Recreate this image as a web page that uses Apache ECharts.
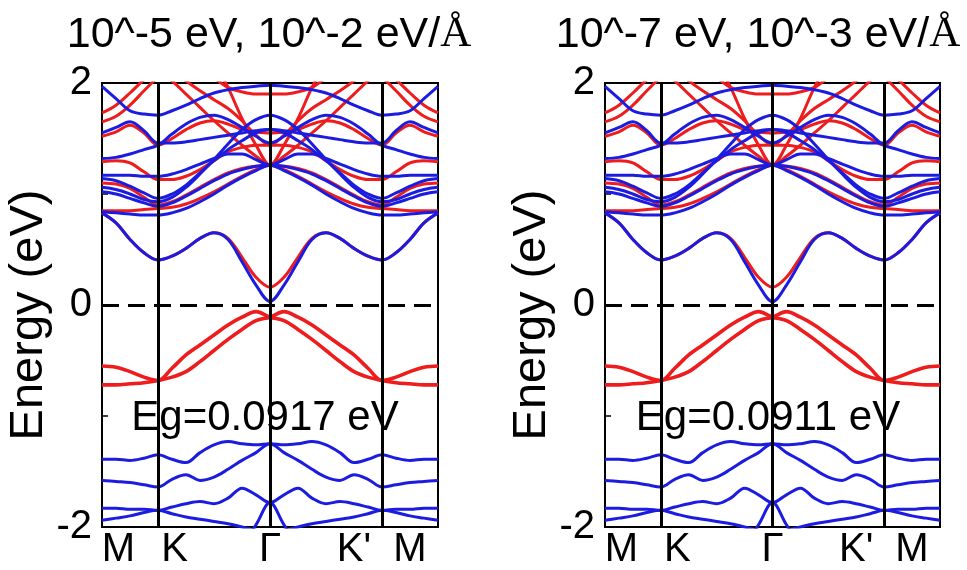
<!DOCTYPE html>
<html>
<head>
<meta charset="utf-8">
<script src="https://cdn.jsdelivr.net/npm/echarts@6/dist/echarts.min.js"></script>
<style>
html,body{margin:0;padding:0;background:#fff;}
#chart{width:967px;height:570px;}
</style>
</head>
<body>
<div id="chart"></div>
<script>
// k-path M-K-Γ-K'-M, sampled every 0.125 (|MK| = 0.5, |KΓ| = 1)
const kPath = [0,0.125,0.25,0.375,0.5,0.625,0.75,0.875,1,1.125,1.25,1.375,1.5,
               1.625,1.75,1.875,2,2.125,2.25,2.375,2.5,2.625,2.75,2.875,3];
const kTicks = [0, 0.5, 1.5, 2.5, 3];
const kLabels = ['M', 'K', 'Γ', "K'", 'M'];
const innerLines = [0.5, 1.5, 2.5];
const energyLabels = [-2, 0, 2];

const panelTitles = ['10^-5 eV, 10^-2 eV/', '10^-7 eV, 10^-3 eV/'];
const gapLabels = ['Eg=0.0917 eV', 'Eg=0.0911 eV'];

// ---- red bands (eV) ----
const redCond1  = [0.83,0.74,0.59,0.47,0.405,0.44,0.51,0.60,0.65,0.60,0.43,0.25,0.16,0.25,0.43,0.60,0.65,0.60,0.51,0.44,0.405,0.47,0.59,0.74,0.83];
const redCond2  = [0.85,0.85,0.85,0.86,0.87,0.88,0.91,0.96,1.02,1.09,1.16,1.22,1.26,1.22,1.16,1.09,1.02,0.96,0.91,0.88,0.87,0.86,0.85,0.85,0.85];
const redCond3  = [1.10,1.09,1.05,0.97,0.90,0.93,0.99,1.06,1.13,1.19,1.23,1.25,1.26,1.25,1.23,1.19,1.13,1.06,0.99,0.93,0.90,0.97,1.05,1.09,1.10];
const redCond4  = [1.29,1.30,1.28,1.20,1.13,1.13,1.16,1.22,1.30,1.38,1.42,1.44,1.44,1.44,1.42,1.38,1.30,1.22,1.16,1.13,1.13,1.20,1.28,1.30,1.29];
const redCond5  = [1.52,1.56,1.62,1.55,1.44,1.50,1.58,1.64,1.66,1.63,1.58,1.56,1.55,1.56,1.58,1.63,1.66,1.64,1.58,1.50,1.44,1.55,1.62,1.56,1.52];
const redCond6  = [1.73,1.80,1.91,2.03,2.12,2.02,1.90,1.78,1.66,1.55,1.44,1.34,1.26,1.34,1.44,1.55,1.66,1.78,1.90,2.02,2.12,2.03,1.91,1.80,1.73];
const redCond7  = [2.40,2.38,2.34,2.28,2.22,2.12,2.02,1.93,1.85,1.77,1.66,1.53,1.44,1.53,1.66,1.77,1.85,1.93,2.02,2.12,2.22,2.28,2.34,2.38,2.40];
const redCond8  = [2.60,2.60,2.60,2.60,2.60,2.55,2.50,2.40,2.20,1.96,1.68,1.44,1.26,1.44,1.68,1.96,2.20,2.40,2.50,2.55,2.60,2.60,2.60,2.60,2.60];
const redCond9  = [2.50,2.45,2.40,2.35,2.30,2.28,2.25,2.16,2.05,1.96,1.92,1.90,1.90,1.90,1.92,1.96,2.05,2.16,2.25,2.28,2.30,2.35,2.40,2.45,2.50];
const redCond10 = [1.65,1.70,1.80,1.93,2.05,2.12,2.20,2.28,2.35,2.40,2.42,2.44,2.45,2.44,2.42,2.40,2.35,2.28,2.20,2.12,2.05,1.93,1.80,1.70,1.65];
const redVal1   = [-0.55,-0.56,-0.60,-0.65,-0.68,-0.57,-0.45,-0.36,-0.27,-0.18,-0.11,-0.06,-0.11,-0.14,-0.22,-0.31,-0.41,-0.51,-0.60,-0.65,-0.68,-0.70,-0.71,-0.72,-0.72];
const redVal2   = [-0.72,-0.72,-0.71,-0.70,-0.68,-0.65,-0.60,-0.51,-0.41,-0.31,-0.22,-0.14,-0.11,-0.06,-0.11,-0.18,-0.27,-0.36,-0.45,-0.57,-0.68,-0.65,-0.60,-0.56,-0.55];

// ---- blue bands (eV) ----
const blueCond1L = [0.83,0.74,0.59,0.47,0.405,0.44,0.51,0.60,0.65,0.59,0.39,0.18,0.0317,0.18,0.39,0.59,0.65,0.60,0.51,0.44,0.405,0.47,0.59,0.74,0.83];
const blueCond1R = [0.83,0.74,0.59,0.47,0.405,0.44,0.51,0.60,0.65,0.59,0.39,0.18,0.0311,0.18,0.39,0.59,0.65,0.60,0.51,0.44,0.405,0.47,0.59,0.74,0.83];
const blueCond2  = [0.84,0.83,0.82,0.81,0.81,0.83,0.87,0.93,1.00,1.08,1.15,1.21,1.26,1.21,1.15,1.08,1.00,0.93,0.87,0.83,0.81,0.81,0.82,0.83,0.84];
const blueCond3  = [1.02,1.00,0.96,0.92,0.89,0.92,0.98,1.05,1.12,1.18,1.22,1.25,1.26,1.25,1.22,1.18,1.12,1.05,0.98,0.92,0.89,0.92,0.96,1.00,1.02];
const blueCond4  = [1.06,1.04,1.00,0.95,0.93,0.97,1.06,1.18,1.31,1.45,1.58,1.67,1.71,1.67,1.58,1.45,1.31,1.18,1.06,0.97,0.93,0.95,1.00,1.04,1.06];
const blueCond5  = [1.14,1.12,1.07,1.01,0.96,1.00,1.08,1.19,1.30,1.40,1.48,1.55,1.58,1.55,1.48,1.40,1.30,1.19,1.08,1.00,0.96,1.01,1.07,1.12,1.14];
const blueCond6  = [1.17,1.17,1.17,1.16,1.16,1.18,1.22,1.27,1.32,1.36,1.36,1.31,1.26,1.31,1.36,1.36,1.32,1.27,1.22,1.18,1.16,1.16,1.17,1.17,1.17];
const blueCond7  = [1.32,1.33,1.36,1.40,1.44,1.54,1.63,1.69,1.71,1.67,1.60,1.52,1.46,1.52,1.60,1.67,1.71,1.69,1.63,1.54,1.44,1.40,1.36,1.33,1.32];
const blueCond8  = [1.55,1.60,1.65,1.57,1.46,1.46,1.47,1.49,1.51,1.53,1.55,1.57,1.58,1.57,1.55,1.53,1.51,1.49,1.47,1.46,1.46,1.57,1.65,1.60,1.55];
const blueCond9  = [1.97,1.86,1.75,1.72,1.71,1.75,1.80,1.86,1.91,1.94,1.96,1.97,1.98,1.97,1.96,1.94,1.91,1.86,1.80,1.75,1.71,1.72,1.75,1.86,1.97];
const blueVal1   = [-1.39,-1.39,-1.40,-1.38,-1.35,-1.39,-1.42,-1.33,-1.26,-1.23,-1.25,-1.26,-1.25,-1.26,-1.25,-1.23,-1.26,-1.33,-1.42,-1.39,-1.35,-1.38,-1.40,-1.39,-1.39];
const blueVal2   = [-1.58,-1.59,-1.60,-1.62,-1.64,-1.57,-1.53,-1.58,-1.55,-1.48,-1.40,-1.33,-1.25,-1.33,-1.40,-1.48,-1.55,-1.58,-1.53,-1.57,-1.64,-1.62,-1.60,-1.59,-1.58];
const blueVal3   = [-1.83,-1.83,-1.84,-1.84,-1.85,-1.82,-1.79,-1.77,-1.79,-1.74,-1.65,-1.71,-1.78,-1.71,-1.65,-1.74,-1.79,-1.77,-1.79,-1.82,-1.85,-1.84,-1.84,-1.83,-1.83];
const blueVal4   = [-1.94,-1.92,-1.90,-1.87,-1.85,-1.88,-1.91,-1.93,-1.95,-1.97,-2.00,-2.03,-2.05,-2.03,-2.00,-1.97,-1.95,-1.93,-1.91,-1.88,-1.85,-1.87,-1.90,-1.92,-1.94];
const blueVal5   = [-2.60,-2.50,-2.40,-2.32,-2.26,-2.22,-2.20,-2.20,-2.20,-2.20,-2.15,-1.98,-1.78,-1.98,-2.15,-2.20,-2.20,-2.20,-2.20,-2.22,-2.26,-2.32,-2.40,-2.50,-2.60];

const redBands = [redVal1, redVal2, redCond1, redCond2, redCond3, redCond4, redCond5,
                  redCond6, redCond7, redCond8, redCond9, redCond10];
const blueBandsCommon = [blueCond2, blueCond3, blueCond4, blueCond5, blueCond6, blueCond7,
                         blueCond8, blueCond9, blueVal1, blueVal2, blueVal3, blueVal4, blueVal5];
const blueBandsPerPanel = [[blueCond1L].concat(blueBandsCommon), [blueCond1R].concat(blueBandsCommon)];

const RED = '#ee1c1c';
const BLUE = '#1c1ce0';
const FONT = 'Liberation Sans, Arial, sans-serif';

const gridBoxes = [
  {left: 102, top: 83, width: 336, height: 444},
  {left: 605, top: 83, width: 335, height: 444}
];

// k-point labels sit inside the panel at both ends
const labelStyleKeys = ['l', 'l', 'c', 'r', 'r'];
const labelRich = {
  l: {fontSize: 40, fontFamily: FONT, color: '#000', padding: [0, 0, 0, 33]},
  c: {fontSize: 40, fontFamily: FONT, color: '#000'},
  r: {fontSize: 40, fontFamily: FONT, color: '#000', padding: [0, 56, 0, 0]}
};

function bandSeries(values, color, gi, width) {
  return {
    type: 'line',
    xAxisIndex: gi, yAxisIndex: gi,
    data: kPath.map((k, i) => [k, values[i]]),
    showSymbol: false,
    smooth: 0.35,
    clip: true,
    silent: true,
    lineStyle: {color: color, width: width},
    z: 2
  };
}

const series = [];
const grids = [], xAxes = [], yAxes = [];
gridBoxes.forEach((g, gi) => {
  grids.push(Object.assign({show: true, borderColor: '#000', borderWidth: 2, backgroundColor: 'transparent'}, g));
  xAxes.push({
    type: 'value', gridIndex: gi, min: 0, max: 3,
    axisLine: {show: false}, axisTick: {show: false}, splitLine: {show: false},
    axisLabel: {
      customValues: kTicks,
      formatter: v => {
        const i = kTicks.indexOf(v);
        return i >= 0 ? '{' + labelStyleKeys[i] + '|' + kLabels[i] + '}' : '';
      },
      rich: labelRich,
      fontSize: 40, color: '#000', fontFamily: FONT, margin: 3
    }
  });
  yAxes.push({
    type: 'value', gridIndex: gi, min: -2, max: 2, interval: 1,
    axisLine: {show: false},
    axisTick: {show: true, inside: true, length: 6, lineStyle: {color: '#000', width: 1.5}},
    splitLine: {show: false},
    axisLabel: {
      formatter: v => (energyLabels.indexOf(v) >= 0 ? String(v) : ''),
      fontSize: 40, color: '#000', fontFamily: FONT, margin: 10
    },
    name: 'Energy (eV)', nameLocation: 'middle', nameGap: 43,
    nameTextStyle: {fontSize: 47, color: '#000', fontFamily: FONT, padding: [0, 20, 0, 0]}
  });
  redBands.forEach((b, bi) => series.push(bandSeries(b, RED, gi, bi < 2 ? 3.6 : 3)));
  blueBandsPerPanel[gi].forEach(b => series.push(bandSeries(b, BLUE, gi, 3)));
  // high-symmetry verticals and the Fermi level
  series.push({
    type: 'line', xAxisIndex: gi, yAxisIndex: gi, data: [], silent: true, z: 5,
    markLine: {
      symbol: 'none', silent: true, animation: false, label: {show: false},
      lineStyle: {color: '#000', width: 3, type: 'solid'},
      emphasis: {disabled: true},
      data: innerLines.map(x => ({xAxis: x, lineStyle: {color: '#000', width: 3, type: 'solid'}}))
        .concat([{yAxis: 0, lineStyle: {color: '#000', width: 3, type: [17, 9]}}])
    }
  });
});

const graphics = [];
const titleCenters = [269, 758];
const gapCenters = [265, 768];
panelTitles.forEach((t, i) => {
  graphics.push({
    type: 'text', x: titleCenters[i], y: 35,
    style: {
      text: t + '{s|Å}', fill: '#000', font: '43px ' + FONT,
      align: 'center', verticalAlign: 'middle',
      rich: {s: {fontFamily: 'Liberation Serif, serif', fontSize: 43, fill: '#000'}}
    }
  });
  graphics.push({
    type: 'text', x: gapCenters[i], y: 418, z: 10,
    style: {text: gapLabels[i], fill: '#000', font: '42px ' + FONT, align: 'center', verticalAlign: 'middle'}
  });
});

const chart = echarts.init(document.getElementById('chart'), null, {renderer: 'canvas'});
chart.setOption({
  animation: false,
  backgroundColor: '#fff',
  grid: grids, xAxis: xAxes, yAxis: yAxes,
  series: series,
  graphic: graphics
});
</script>
</body>
</html>
